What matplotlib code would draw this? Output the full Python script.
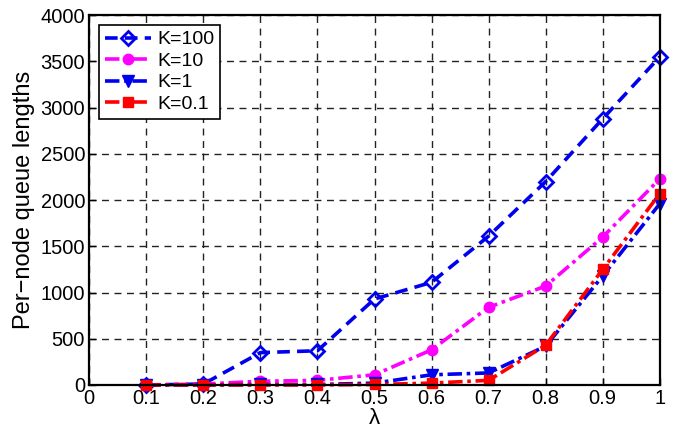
import numpy as np
import matplotlib.pyplot as plt

plt.rcParams['font.family'] = ['Liberation Sans', 'DejaVu Sans']

# arrival rate lambda
lam = [0.1, 0.2, 0.3, 0.4, 0.5, 0.6, 0.7, 0.8, 0.9, 1.0]

# per-node queue lengths for each K
q_k100 = [0, 10, 350, 370, 930, 1110, 1610, 2200, 2880, 3550]
q_k10 = [0, 10, 40, 50, 110, 380, 840, 1070, 1600, 2230]
q_k1 = [0, 0, 5, 5, 20, 110, 130, 420, 1180, 1960]
q_k01 = [0, 0, 0, 0, 5, 20, 50, 430, 1250, 2070]

xticks = [0, 0.1, 0.2, 0.3, 0.4, 0.5, 0.6, 0.7, 0.8, 0.9, 1]
xticklabels = ['0', '0.1', '0.2', '0.3', '0.4', '0.5', '0.6', '0.7', '0.8', '0.9', '1']
yticks = [0, 500, 1000, 1500, 2000, 2500, 3000, 3500, 4000]

fig = plt.figure(figsize=(6.76, 4.34), dpi=100)
ax = fig.add_axes([0.132, 0.113, 0.844, 0.852])

ax.plot(lam, q_k100, color='#0000ee', ls=(0, (3.5, 2)), lw=2.6, marker='D', ms=7,
        mfc='none', mew=2, label='K=100', clip_on=False)
ax.plot(lam, q_k10, color='#ff00ff', ls=(0, (4, 1.3, 1, 1.3)), lw=2.6, marker='o', ms=7.5,
        label='K=10', clip_on=False)
ax.plot(lam, q_k1, color='#0000ee', ls=(0, (4, 1.3, 1, 1.3)), lw=2.6, marker='v', ms=8,
        label='K=1', clip_on=False)
ax.plot(lam, q_k01, color='#ff0000', ls=(0, (4, 1.3, 1, 1.3)), lw=2.6, marker='s', ms=7.5,
        label='K=0.1', clip_on=False)

ax.set_xlim(0, 1)
ax.set_ylim(0, 4000)
ax.set_xticks(xticks)
ax.set_xticklabels(xticklabels)
ax.set_yticks(yticks)
ax.tick_params(labelsize=14.5, direction='in', length=5, width=1, pad=3)
ax.grid(True, color='#222222', ls=(0, (5, 4)), lw=1.0)
for s in ax.spines.values():
    s.set_linewidth(1.6)

ax.set_xlabel('λ', fontsize=16, labelpad=0)
ax.set_ylabel('Per\u2212node queue lengths', fontsize=17, labelpad=4)

leg = ax.legend(loc='upper left', fontsize=14, fancybox=False, framealpha=1,
                edgecolor='black', handlelength=2.4, handletextpad=0.3,
                borderpad=0.3, labelspacing=0.2, borderaxespad=0.5)
leg.get_frame().set_linewidth(1.2)

fig.savefig('out.png', dpi=100)
